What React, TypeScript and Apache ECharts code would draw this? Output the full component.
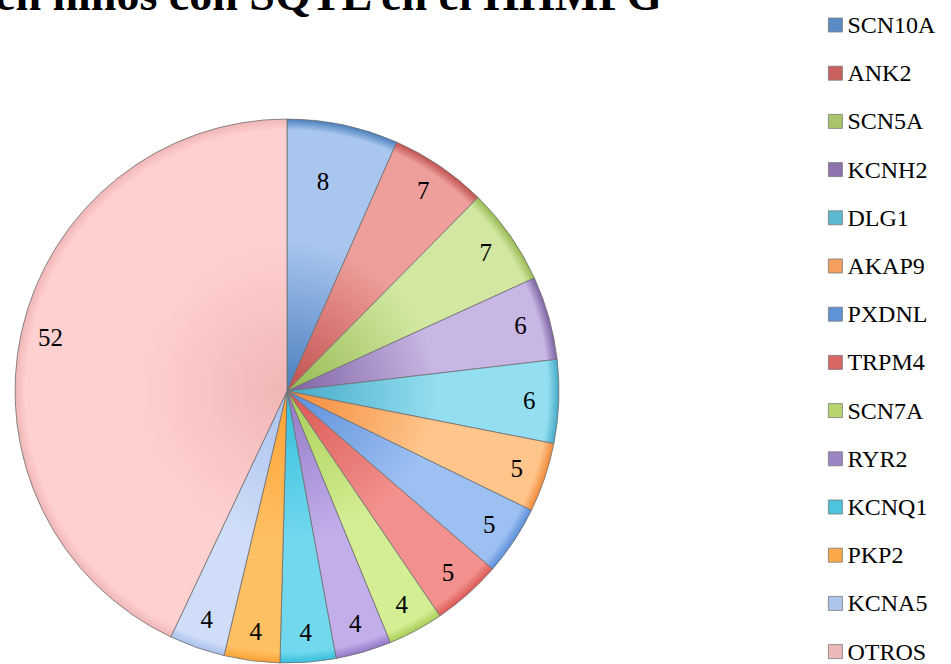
import React, { useEffect, useRef } from "react";
import * as echarts from "echarts";

const titleText = "en niños con SQTL en el HHMPG";
const categories = [
  "SCN10A", "ANK2", "SCN5A", "KCNH2", "DLG1", "AKAP9", "PXDNL",
  "TRPM4", "SCN7A", "RYR2", "KCNQ1", "PKP2", "KCNA5", "OTROS",
];
const values = [8, 7, 7, 6, 6, 5, 5, 5, 4, 4, 4, 4, 4, 52];
const innerColors = [
  "#4A7EBD", "#C0504D", "#96BA52", "#7E62A3", "#45A9C6", "#F28A3A", "#5B8ED8",
  "#DB5753", "#A7CE56", "#9278C6", "#35BEDC", "#FCA233", "#A9C2EE", "#F0B6B6",
];
const outerColors = [
  "#A8C6EE", "#EE9F9C", "#D2E8A2", "#C8B6E4", "#93DEF0", "#FFC58B", "#9DC0F3",
  "#F2918D", "#D4EE94", "#C3AEEA", "#72D8EE", "#FFBF63", "#CFDDF8", "#FFD0D0",
];
const legendColors = [
  "#5B8BC7", "#C9605D", "#A9C76A", "#8D72AE", "#5AB8D0", "#F5A060", "#5F93D5",
  "#D96663", "#B6D56E", "#9C84C4", "#4DC3DD", "#F9A94A", "#AFC4EA", "#EDB8B8",
];

const SERIF = "'Liberation Serif', 'Times New Roman', serif";
const CX = 287;
const CY = 391;
const R = 272;

export default function App() {
  const ref = useRef<HTMLDivElement>(null);

  useEffect(() => {
    document.body.style.margin = "0";
    if (!ref.current) return;
    const chart = echarts.init(ref.current, undefined, { renderer: "svg" });

    const pieData = categories.map((name, i) => ({
      name,
      value: values[i],
      itemStyle: {
        color: new echarts.graphic.RadialGradient(
          CX,
          CY,
          R,
          [
            { offset: 0, color: innerColors[i] },
            { offset: 0.55, color: outerColors[i] },
            { offset: 0.96, color: outerColors[i] },
            { offset: 1, color: innerColors[i] },
          ],
          true
        ),
      },
    }));

    const labelData = categories.map((name, i) =>
      i === 0
        ? { name, value: values[i], label: { offset: [-14, 28] } }
        : { name, value: values[i] }
    );

    chart.setOption({
      animation: false,
      backgroundColor: "#ffffff",
      textStyle: { fontFamily: SERIF },
      graphic: [
        {
          type: "text",
          x: -5,
          y: -6,
          style: {
            text: titleText,
            fontFamily: SERIF,
            fontWeight: "bold",
            fontSize: 46,
            fill: "#000000",
            align: "left",
            verticalAlign: "middle",
          },
        },
      ],
      legend: {
        orient: "vertical",
        left: 828,
        top: 12,
        height: 800,
        padding: 0,
        itemWidth: 14,
        itemHeight: 14,
        itemGap: 22.2,
        icon: "rect",
        selectedMode: false,
        data: categories.map((name, i) => ({
          name,
          itemStyle: {
            color: legendColors[i],
            borderColor: "#7a7a7a",
            borderWidth: 0.8,
          },
        })),
        textStyle: {
          fontFamily: SERIF,
          fontSize: 24,
          lineHeight: 26,
          color: "#000000",
        },
      },
      series: [
        {
          type: "pie",
          center: [CX, CY],
          radius: R,
          startAngle: 90,
          clockwise: true,
          silent: true,
          label: { show: false },
          labelLine: { show: false },
          itemStyle: { borderColor: "#6e6e6e", borderWidth: 0.8 },
          data: pieData,
        },
        {
          type: "pie",
          center: [CX, CY],
          radius: [R * 0.76, R],
          startAngle: 90,
          clockwise: true,
          silent: true,
          itemStyle: { color: "rgba(0,0,0,0)", borderWidth: 0 },
          label: {
            show: true,
            position: "inside",
            formatter: "{c}",
            fontFamily: SERIF,
            fontSize: 25,
            color: "#000000",
          },
          labelLine: { show: false },
          data: labelData,
        },
      ],
    });

    return () => chart.dispose();
  }, []);

  return <div ref={ref} style={{ width: 951, height: 664 }} />;
}
